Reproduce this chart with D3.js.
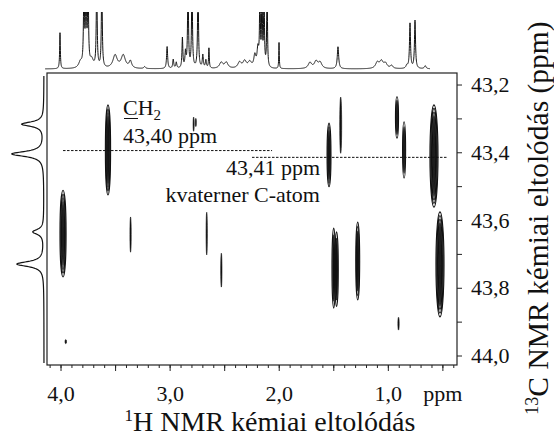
<!DOCTYPE html>
<html>
<head>
<meta charset="utf-8">
<script src="https://cdn.jsdelivr.net/npm/d3@7"></script>
<style>
  body { margin: 0; background: #fff; }
  svg { display: block; }
</style>
</head>
<body>
<div id="chart"></div>
<script>
// 2D cross peaks: 1H shift, 13C shift, half widths (ppm), contour levels
const peakH      = [3.565, 3.977, 3.358, 2.660, 2.526, 2.780, 2.760, 1.539, 1.432, 1.496, 1.470, 1.276, 0.916, 0.851, 0.577, 0.522, 0.902, 3.952];
const peakC      = [43.393, 43.640, 43.643, 43.640, 43.748, 43.317, 43.312, 43.408, 43.320, 43.742, 43.745, 43.721, 43.297, 43.393, 43.411, 43.731, 43.906, 43.959];
const peakHWidth = [0.024, 0.028, 0.006, 0.006, 0.006, 0.005, 0.005, 0.018, 0.009, 0.016, 0.016, 0.018, 0.014, 0.014, 0.037, 0.037, 0.006, 0.007];
const peakCWidth = [0.133, 0.128, 0.052, 0.063, 0.050, 0.021, 0.012, 0.094, 0.083, 0.118, 0.110, 0.115, 0.061, 0.083, 0.151, 0.155, 0.019, 0.006];
const peakLevels = [4, 4, 1, 1, 1, 1, 1, 3, 1, 2, 2, 3, 2, 2, 5, 5, 1, 1];

// 1H projection (top): position, height, half width
const topPpm    = [4.00, 3.80, 3.765, 3.745, 3.725, 3.69, 3.64, 3.59, 3.46, 3.38, 3.31, 3.17, 2.95, 2.89, 2.86, 2.80, 2.77, 2.745, 2.706, 2.647, 2.60, 2.57, 2.54, 2.42, 2.37, 2.24, 2.19, 2.14, 2.09, 2.06, 2.04, 2.02, 2.00, 1.97, 1.853, 1.55, 1.49, 1.45, 1.275, 0.89, 0.85, 0.81, 0.75, 0.60, 0.569, 0.52, 0.42];
const topHeight = [36, 6, 90, 90, 90, 8, 90, 90, 13, 13, 7, 2, 22, 9, 6, 30, 15, 90, 90, 90, 13, 8, 20, 6, 6, 6, 7, 6, 12, 18, 90, 90, 90, 90, 26, 6, 7, 6, 22, 6, 7, 5, 3, 3, 45, 48, 3];
const topWidth  = [0.004, 0.02, 0.005, 0.005, 0.005, 0.02, 0.005, 0.005, 0.025, 0.025, 0.015, 0.01, 0.006, 0.006, 0.006, 0.005, 0.006, 0.005, 0.005, 0.005, 0.006, 0.006, 0.004, 0.02, 0.02, 0.02, 0.02, 0.02, 0.012, 0.01, 0.004, 0.004, 0.004, 0.004, 0.003, 0.02, 0.02, 0.02, 0.008, 0.02, 0.02, 0.02, 0.015, 0.01, 0.006, 0.006, 0.01];

// 13C projection (left)
const leftPpm    = [43.317, 43.405, 43.635, 43.730];
const leftHeight = [22, 32, 11, 27];
const leftWidth  = [0.008, 0.009, 0.009, 0.009];

// axes
const hMajor = [4.0, 3.5, 3.0, 2.5, 2.0, 1.5, 1.0, 0.5];
const hMinor = d3.range(0.4, 4.11, 0.1);
const hLabels = { 4: '4,0', 3: '3,0', 2: '2,0', 1: '1,0', 0.5: 'ppm' };
const cMajor = [43.2, 43.4, 43.6, 43.8, 44.0];
const cMinor = [43.3, 43.5, 43.7, 43.9];

// annotation lines (13C ppm, 1H from, 1H to)
const markC    = [43.395, 43.415];
const markFrom = [3.977, 2.245];
const markTo   = [2.061, 0.457];

const W = 554, H = 436;
const frame = { left: 47, right: 457, top: 73, bottom: 365 };
const serif = '"Liberation Serif", "Times New Roman", serif';

const svg = d3.select('#chart').append('svg')
    .attr('width', W)
    .attr('height', H)
    .style('font-family', serif);

const x = d3.scaleLinear().domain([4.124, 0.366]).range([frame.left, frame.right]);
const y = d3.scaleLinear().domain([43.166, 44.028]).range([frame.top, frame.bottom]);

const fmt = d3.formatLocale({ decimal: ',', thousands: ' ', grouping: [3], currency: ['', ''] }).format('.1f');

// frame
svg.append('rect')
    .attr('x', frame.left).attr('y', frame.top)
    .attr('width', frame.right - frame.left).attr('height', frame.bottom - frame.top)
    .attr('fill', 'none').attr('stroke', '#222').attr('stroke-width', 1.2);

// bottom axis
const bottomMinor = svg.append('g')
    .attr('transform', `translate(0,${frame.bottom})`)
    .call(d3.axisBottom(x).tickValues(hMinor).tickSize(3).tickFormat(''));
const bottomMajor = svg.append('g')
    .attr('transform', `translate(0,${frame.bottom})`)
    .call(d3.axisBottom(x).tickValues(hMajor).tickSize(6).tickPadding(14)
        .tickFormat(d => hLabels[d] || ''));

// right axis
const rightMinor = svg.append('g')
    .attr('transform', `translate(${frame.right},0)`)
    .call(d3.axisRight(y).tickValues(cMinor).tickSize(5).tickFormat(''));
const rightMajor = svg.append('g')
    .attr('transform', `translate(${frame.right},0)`)
    .call(d3.axisRight(y).tickValues(cMajor).tickSize(5).tickPadding(9).tickFormat(fmt));

[bottomMinor, bottomMajor, rightMinor, rightMajor].forEach(g => {
    g.select('.domain').remove();
    g.selectAll('line').attr('stroke', '#222');
    g.selectAll('text')
        .attr('fill', '#111')
        .style('font-family', serif)
        .style('font-size', '22px');
});

// axis titles
const xTitle = svg.append('text')
    .attr('x', 270).attr('y', 431)
    .attr('text-anchor', 'middle')
    .attr('font-size', 28).attr('fill', '#111');
xTitle.append('tspan').attr('font-size', 17).attr('dy', -10).text('1');
xTitle.append('tspan').attr('dy', 10).text('H NMR kémiai eltolódás');

const yTitle = svg.append('text')
    .attr('transform', 'translate(548,218) rotate(-90)')
    .attr('text-anchor', 'middle')
    .attr('font-size', 29.5).attr('fill', '#111');
yTitle.append('tspan').attr('font-size', 18).attr('dy', -10).text('13');
yTitle.append('tspan').attr('dy', 10).text('C NMR kémiai eltolódás (ppm)');

// top 1H projection
const xTop = d3.scaleLinear().domain([4.147, 0.373]).range([45, 430]);
const yTop = d3.scaleLinear().domain([0, 57]).range([69, 12]);
const topData = d3.range(0.373, 4.147, 0.001).map(h => ({
    h,
    v: d3.sum(topPpm, (p, i) => topHeight[i] / (1 + ((h - p) / topWidth[i]) ** 2))
}));
svg.append('clipPath').attr('id', 'topClip')
    .append('rect').attr('x', 40).attr('y', 12).attr('width', 400).attr('height', 60);
svg.append('path')
    .datum(topData)
    .attr('clip-path', 'url(#topClip)')
    .attr('fill', 'none')
    .attr('stroke', '#111')
    .attr('stroke-width', 1)
    .attr('d', d3.line().x(d => xTop(d.h)).y(d => yTop(d.v)));

// left 13C projection
const xLeft = d3.scaleLinear().domain([0, 32]).range([44, 12]);
const leftData = d3.range(43.175, 44.022, 0.001).map(c => ({
    c,
    v: d3.sum(leftPpm, (p, i) => leftHeight[i] / (1 + ((c - p) / leftWidth[i]) ** 2))
}));
svg.append('path')
    .datum(leftData)
    .attr('fill', 'none')
    .attr('stroke', '#111')
    .attr('stroke-width', 1.2)
    .attr('d', d3.line().x(d => xLeft(d.v)).y(d => y(d.c)));

// cross peaks as nested contours, innermost filled
const peaks = svg.append('g');
peakH.forEach((h, i) => {
    const rx = Math.abs(x(h + peakHWidth[i]) - x(h));
    const ry = Math.abs(y(peakC[i] + peakCWidth[i]) - y(peakC[i]));
    const n = peakLevels[i];
    d3.range(n).forEach(k => {
        const inner = k === n - 1;
        peaks.append('ellipse')
            .attr('cx', x(h))
            .attr('cy', y(peakC[i]))
            .attr('rx', Math.max(rx * (1 - k / n), 0.4))
            .attr('ry', ry * (1 - 0.35 * k / n))
            .attr('fill', inner ? '#111' : 'none')
            .attr('stroke', '#111')
            .attr('stroke-width', n === 1 ? 0.6 : 1.1);
    });
});

// dashed marker lines
markC.forEach((c, i) => {
    svg.append('line')
        .attr('x1', x(markFrom[i])).attr('x2', x(markTo[i]))
        .attr('y1', y(c)).attr('y2', y(c))
        .attr('stroke', '#111')
        .attr('stroke-width', 1)
        .attr('stroke-dasharray', '2.5,1.5');
});

// annotations
const ch2 = svg.append('text').attr('x', 123).attr('y', 115).attr('font-size', 22).attr('fill', '#111');
ch2.append('tspan').text('C');
ch2.append('tspan').text('H');
ch2.append('tspan').attr('font-size', 15).attr('dy', 5).text('2');
svg.append('line')
    .attr('x1', 124).attr('x2', 138).attr('y1', 118.5).attr('y2', 118.5)
    .attr('stroke', '#111').attr('stroke-width', 1);

svg.append('text').attr('x', 123).attr('y', 143).attr('font-size', 22).attr('fill', '#111')
    .text('43,40 ppm');
svg.append('text').attr('x', 320).attr('y', 175).attr('text-anchor', 'end').attr('font-size', 22).attr('fill', '#111')
    .text('43,41 ppm');
svg.append('text').attr('x', 320).attr('y', 202).attr('text-anchor', 'end').attr('font-size', 22).attr('fill', '#111')
    .text('kvaterner C-atom');
</script>
</body>
</html>
